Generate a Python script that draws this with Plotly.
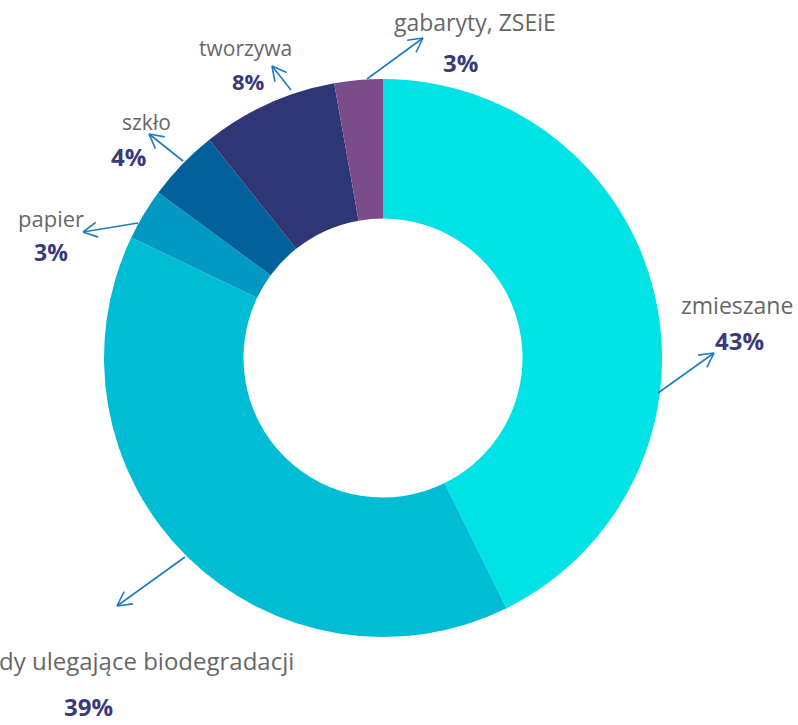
import math
import plotly.graph_objects as go

labels = ["zmieszane", "dy ulegające biodegradacji", "papier", "szkło", "tworzywa", "gabaryty, ZSEiE"]
values = [42.7, 39.4, 3.0, 4.2, 7.9, 2.8]
pct_text = ["43%", "39%", "3%", "4%", "8%", "3%"]
colors = ["#00e3e6", "#00bdd6", "#0399c2", "#02619a", "#2e3675", "#7b4c8a"]

W, H = 798, 725
cx, cy, R = 383, 358, 279

# label layout (pixel centres) : name position, percent position, arrow head, arrow tail
name_pos = [(737, 305), (-3, 660), (51, 218), (146, 122), (245, 48), (475, 22)]
pct_pos = [(739, 340), (88, 711), (51, 252), (128, 156), (248, 81), (460, 62)]
name_size = [23, 24, 22, 21, 21, 23]
pct_size = [24, 24, 23, 24, 22, 24]
arrow_head = [(714, 353), (117, 606), (83, 232), (149, 134), (272, 66), (423, 38)]
arrow_tail = [(658, 393), (185, 557), (138, 223), (183, 161), (291, 90), (367, 79)]

fig = go.Figure(go.Pie(
    labels=labels, values=values, sort=False, direction="clockwise", rotation=0,
    hole=0.5, marker=dict(colors=colors, line=dict(width=0)),
    textinfo="none", hoverinfo="none", showlegend=False,
    domain=dict(x=[(cx - R) / W, (cx + R) / W], y=[(H - cy - R) / H, (H - cy + R) / H]),
))


def px2paper(x, y):
    return x / W, 1 - y / H


ARROW = "#1f7bc4"
ann, shapes = [], []
for i in range(len(labels)):
    nx, ny = px2paper(*name_pos[i])
    ann.append(dict(x=nx, y=ny, xref="paper", yref="paper", text=labels[i],
                    showarrow=False, xanchor="left" if i == 1 else "center", yanchor="middle",
                    font=dict(family="Open Sans", size=name_size[i], color="#676767")))
    qx, qy = px2paper(*pct_pos[i])
    if i == 1:
        qy, yanc = 0.0, "bottom"
    else:
        yanc = "middle"
    ann.append(dict(x=qx, y=qy, xref="paper", yref="paper", text="<b>" + pct_text[i] + "</b>",
                    showarrow=False, xanchor="center", yanchor=yanc,
                    font=dict(family="Open Sans", size=pct_size[i], color="#3a3a78")))
    hx, hy = arrow_head[i]
    tx, ty = arrow_tail[i]
    x0, y0 = px2paper(tx, ty)
    x1, y1 = px2paper(hx, hy)
    shapes.append(dict(type="line", xref="paper", yref="paper", x0=x0, y0=y0, x1=x1, y1=y1,
                       line=dict(color=ARROW, width=1.6)))
    ang = math.atan2(ty - hy, tx - hx)
    for s in (-1, 1):
        a = ang + s * math.radians(28)
        ex, ey = px2paper(hx + 16 * math.cos(a), hy + 16 * math.sin(a))
        shapes.append(dict(type="line", xref="paper", yref="paper", x0=x1, y0=y1, x1=ex, y1=ey,
                           line=dict(color=ARROW, width=1.6)))

fig.update_layout(width=W, height=H, margin=dict(l=0, r=0, t=0, b=0),
                  paper_bgcolor="white", plot_bgcolor="white",
                  annotations=ann, shapes=shapes)
fig.write_html("out.html", config={"displayModeBar": False},
               post_script="document.body.style.margin='0';document.body.style.overflow='hidden';")
